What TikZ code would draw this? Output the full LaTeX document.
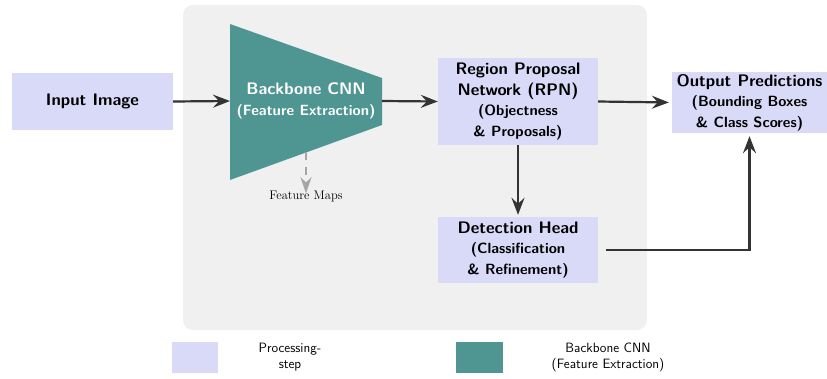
\documentclass[tikz,border=0pt]{standalone}
\usetikzlibrary{arrows.meta,calc}
\definecolor{lav}{HTML}{D9D9F8}
\definecolor{teal2}{HTML}{4F9693}
\definecolor{bgg}{HTML}{F0F0F0}
\definecolor{arr}{HTML}{333333}
\newcommand{\bigf}{\sffamily\bfseries\fontsize{16.7}{20.5}\selectfont}
\newcommand{\subf}{\sffamily\bfseries\fontsize{14.8}{20.5}\selectfont}
\tikzset{
  proc/.style={fill=lav, draw=none, inner sep=0pt, align=center, text=black, font=\bigf},
  flow/.style={draw=arr, line width=2.2pt, -{Stealth[length=17pt,width=13pt,inset=6pt]}},
}
\begin{document}
\begin{tikzpicture}[x=1pt,y=-1pt]
\useasboundingbox (0,0) rectangle (827,378);
% background panel
\fill[bgg, rounded corners=10pt] (183,5) rectangle (647,330);
% input
\node[proc, minimum width=161pt, minimum height=57pt] (inp) at (92.5,101.5) {Input Image};
% backbone trapezoid
\fill[teal2] (230,24) -- (382,78) -- (382,125) -- (230,180) -- cycle;
\coordinate (cnnL) at (230,101);
\coordinate (cnnR) at (382,101);
\node[text=white, align=center, font=\bigf] (cnn) at (306,101) {Backbone CNN\\\subf(Feature Extraction)};
% feature maps
\coordinate (fmtop) at (306,152);
\node[font=\fontsize{12.5}{14}\selectfont, inner sep=1pt] (fm) at (306,196) {Feature Maps};
\draw[gray!70, line width=2pt, dash pattern=on 8pt off 7pt, -{Stealth[length=16pt,width=11pt,inset=5pt]}] (fmtop) -- ([yshift=-4pt]fm.north);
% RPN
\node[proc, minimum width=160pt, minimum height=87pt] (rpn) at (518,101.5)
 {Region Proposal\\Network (RPN)\\\subf (Objectness\\\subf \& Proposals)};
% Detection head
\node[proc, minimum width=160pt, minimum height=66pt] (det) at (518,250)
 {Detection Head\\\subf (Classification\\\subf \& Refinement)};
% Output
\node[proc, minimum width=155pt, minimum height=61pt] (out) at (749.5,102.5)
 {Output Predictions\\\subf (Bounding Boxes\\\subf \& Class Scores)};
% arrows
\draw[flow] (inp.east) -- (cnnL);
\draw[flow] (cnnR) -- (rpn.west);
\draw[flow, shorten >=3pt] (rpn.east) -- (out.west);
\draw[flow, shorten >=2pt] (rpn.south) -- (det.north);
\draw[flow, shorten >=3pt] ([xshift=8pt]det.east) -| (out.south);
% legend
\node[fill=lav, minimum width=46pt, minimum height=31pt, inner sep=0pt] (leg1) at (195,357.5) {};
\node[align=center, font=\sffamily\fontsize{13.5}{16}\selectfont] (leg1t) at (290,357.5) {Processing-\\step};
\node[fill=teal2, minimum width=47pt, minimum height=31pt, inner sep=0pt] (leg2) at (479.5,357.5) {};
\node[align=center, font=\sffamily\fontsize{13.5}{16}\selectfont] (leg2t) at (608,357.5) {Backbone CNN\\(Feature Extraction)};
\end{tikzpicture}
\end{document}
